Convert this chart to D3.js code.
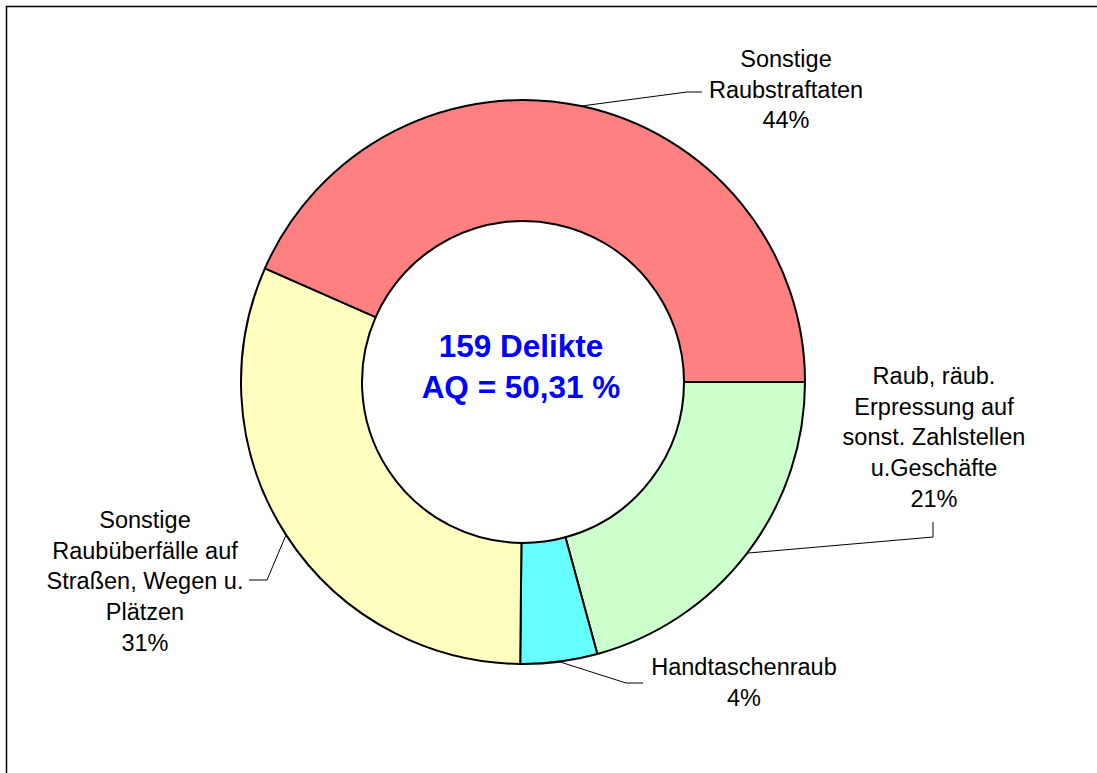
<!DOCTYPE html>
<html>
<head>
<meta charset="utf-8">
<script src="https://cdn.jsdelivr.net/npm/d3@7/dist/d3.min.js"></script>
<style>
  html, body { margin: 0; padding: 0; background: #fff; overflow: hidden; }
  svg { display: block; font-family: 'Liberation Sans', Arial, sans-serif; }
</style>
</head>
<body>
<div id="chart"></div>
<script>
// categories, clockwise from 3 o'clock
var categories = [
  'Raub, räub. Erpressung auf sonst. Zahlstellen u.Geschäfte',
  'Handtaschenraub',
  'Sonstige Raubüberfälle auf Straßen, Wegen u. Plätzen',
  'Sonstige Raubstraftaten'
]
var counts = [33, 7, 50, 69]
var pctLabels = ['21%', '4%', '31%', '44%']
var labelLines = [
  ['Raub, räub.', 'Erpressung auf', 'sonst. Zahlstellen', 'u.Geschäfte'],
  ['Handtaschenraub'],
  ['Sonstige', 'Raubüberfälle auf', 'Straßen, Wegen u.', 'Plätzen'],
  ['Sonstige', 'Raubstraftaten']
]
var centerLines = ['159 Delikte', 'AQ = 50,31 %']

var colors = ['#CCFFCC', '#66FFFF', '#FFFFC0', '#FF8080']

var width = 1097
var height = 773
var cx = 523
var cy = 382
var outerR = 282
var innerR = 161
var fontSize = 23.5
var lineH = 30.7

// label block placement: x centre, first baseline, and leader elbow / end
var labelPos = [
  { x: 934, y: 384, elbow: [933, 537], end: [933, 522] },
  { x: 744, y: 675, elbow: [626, 683], end: [643, 683] },
  { x: 145, y: 528, elbow: [267, 580], end: [249, 580] },
  { x: 786, y: 67, elbow: [687, 92], end: [702, 92] }
]

var svg = d3.select('#chart').append('svg')
  .attr('width', width)
  .attr('height', height)

// chart frame (right and bottom edges run off the picture)
svg.append('path')
  .attr('d', 'M6.5,' + height + 'V6.5H' + width)
  .attr('fill', 'none').attr('stroke', '#000').attr('stroke-width', 1.5)

var pie = d3.pie().sort(null).value(function (d) { return d })
  .startAngle(Math.PI / 2).endAngle(Math.PI / 2 + 2 * Math.PI)
var arcs = pie(counts)

var arc = d3.arc().innerRadius(innerR).outerRadius(outerR)

var g = svg.append('g').attr('transform', 'translate(' + cx + ',' + cy + ')')

g.selectAll('path.slice')
  .data(arcs)
  .enter()
  .append('path')
    .attr('class', 'slice')
    .attr('d', arc)
    .attr('fill', function (d, i) { return colors[i] })
    .attr('stroke', '#000')
    .attr('stroke-width', 2)
    .attr('stroke-linejoin', 'round')

// leader lines from mid of each slice's outer edge
svg.append('g').selectAll('polyline')
  .data(arcs)
  .enter()
  .append('polyline')
    .attr('points', function (d, i) {
      var a = (d.startAngle + d.endAngle) / 2
      var p0 = [cx + outerR * Math.sin(a), cy - outerR * Math.cos(a)]
      return [p0, labelPos[i].elbow, labelPos[i].end].map(function (p) { return p.join(',') }).join(' ')
    })
    .attr('fill', 'none')
    .attr('stroke', '#000')
    .attr('stroke-width', 1)

// slice labels
labelLines.forEach(function (lines, i) {
  var t = svg.append('text')
    .attr('text-anchor', 'middle')
    .attr('font-size', fontSize)
    .attr('fill', '#000')
  lines.concat([pctLabels[i]]).forEach(function (s, k) {
    t.append('tspan')
      .attr('x', labelPos[i].x)
      .attr('y', labelPos[i].y + k * lineH)
      .text(s)
  })
})

// centre text
svg.append('g').selectAll('text')
  .data(centerLines)
  .enter()
  .append('text')
    .attr('x', 521)
    .attr('y', function (d, i) { return 357 + i * 41 })
    .attr('text-anchor', 'middle')
    .attr('font-size', 31.5)
    .attr('font-weight', 'bold')
    .attr('fill', '#0000FF')
    .text(function (d) { return d })
</script>
</body>
</html>
